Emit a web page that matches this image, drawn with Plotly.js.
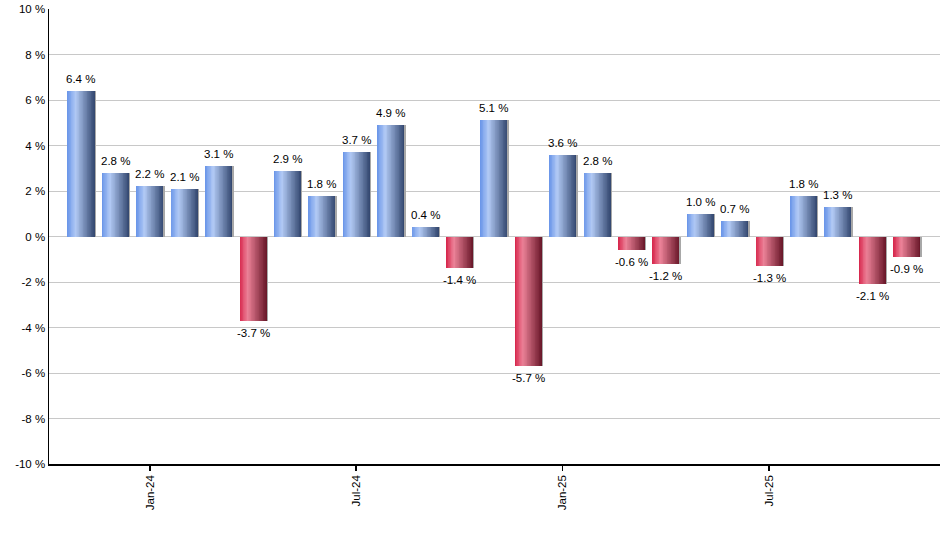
<!DOCTYPE html>
<html>
<head>
<meta charset="utf-8">
<script src="https://cdn.plot.ly/plotly-3.0.1.min.js"></script>
<style>html,body{margin:0;padding:0;background:#fff;}#chart{width:940px;height:550px;}</style>
</head>
<body>
<div id="chart"></div>
<script>
// Data
var months = ["Nov-23","Dec-23","Jan-24","Feb-24","Mar-24","Apr-24","May-24","Jun-24","Jul-24","Aug-24","Sep-24","Oct-24","Nov-24","Dec-24","Jan-25","Feb-25","Mar-25","Apr-25","May-25","Jun-25","Jul-25","Aug-25","Sep-25","Oct-25","Nov-25"];
var returns = [6.4, 2.8, 2.2, 2.1, 3.1, -3.7, 2.9, 1.8, 3.7, 4.9, 0.4, -1.4, 5.1, -5.7, 3.6, 2.8, -0.6, -1.2, 1.0, 0.7, -1.3, 1.8, 1.3, -2.1, -0.9];
var tickMonths = ["Jan-24","Jul-24","Jan-25","Jul-25"];
var yTicks = [-10,-8,-6,-4,-2,0,2,4,6,8,10];

// Styling helpers
var blueStops = [[104,148,232],[178,202,245],[50,70,110]];
var redStops  = [[214,36,74],[236,130,152],[104,22,40]];
function mix(a,b,t){return a.map(function(v,i){return Math.round(v+(b[i]-v)*t);});}
function grad(stops,t){
  var p=0.3;
  var c = t<p ? mix(stops[0],stops[1],t/p) : mix(stops[1],stops[2],(t-p)/(1-p));
  return 'rgb('+c.join(',')+')';
}

var BW = 0.785, N = 34, step = BW/N;
var traces = [];
// shadow
traces.push({
  type:'bar', x:months, y:returns, width:BW, offset:-BW/2+0.045,
  marker:{color:'#a8a8a8', line:{width:0}}, hoverinfo:'skip', showlegend:false
});
for (var i=0;i<N;i++){
  var t=(i+0.5)/N;
  traces.push({
    type:'bar', x:months, y:returns,
    width: (i===N-1? step : step*2), offset: -BW/2 + i*step,
    marker:{color: returns.map(function(v){return v>=0?grad(blueStops,t):grad(redStops,t);}), line:{width:0}},
    hoverinfo:'skip', showlegend:false
  });
}

var annotations = returns.map(function(v,k){
  return {
    x: months[k], y: v, xref:'x', yref:'y',
    text: v.toFixed(1)+' %', showarrow:false,
    yanchor: v>=0 ? 'bottom' : 'top', xanchor:'center',
    yshift: v>=0 ? 4 : -4,
    font:{family:'Liberation Sans, Arial, sans-serif', size:11.5, color:'#000'}
  };
});

var layout = {
  width:940, height:550,
  margin:{l:49, r:0, t:9, b:86, pad:0},
  paper_bgcolor:'#fff', plot_bgcolor:'#fff',
  barmode:'overlay', bargap:0,
  showlegend:false,
  annotations: annotations,
  font:{family:'Liberation Sans, Arial, sans-serif', size:11, color:'#000'},
  xaxis:{
    type:'category', range:[-0.93, 24.97],
    tickmode:'array', tickvals:tickMonths, ticktext:tickMonths,
    tickangle:-90, ticks:'outside', ticklen:5, tickcolor:'#000', tickwidth:1.5,
    showline:true, linecolor:'#000', linewidth:1.5, showgrid:false, zeroline:false,
    tickfont:{family:'Liberation Sans, Arial, sans-serif', size:11.5, color:'#000'}
  },
  yaxis:{
    range:[-10,10], tickmode:'array', tickvals:yTicks,
    ticktext: yTicks.map(function(v){return v+' %';}),
    ticks:'', showline:true, linecolor:'#000', linewidth:1.5,
    showgrid:true, gridcolor:'#c8c8c8', gridwidth:1,
    zeroline:true, zerolinecolor:'#c8c8c8', zerolinewidth:1,
    tickfont:{family:'Liberation Sans, Arial, sans-serif', size:11.5, color:'#000'}
  }
};
Plotly.newPlot('chart', traces, layout, {displayModeBar:false, staticPlot:true});
</script>
</body>
</html>
